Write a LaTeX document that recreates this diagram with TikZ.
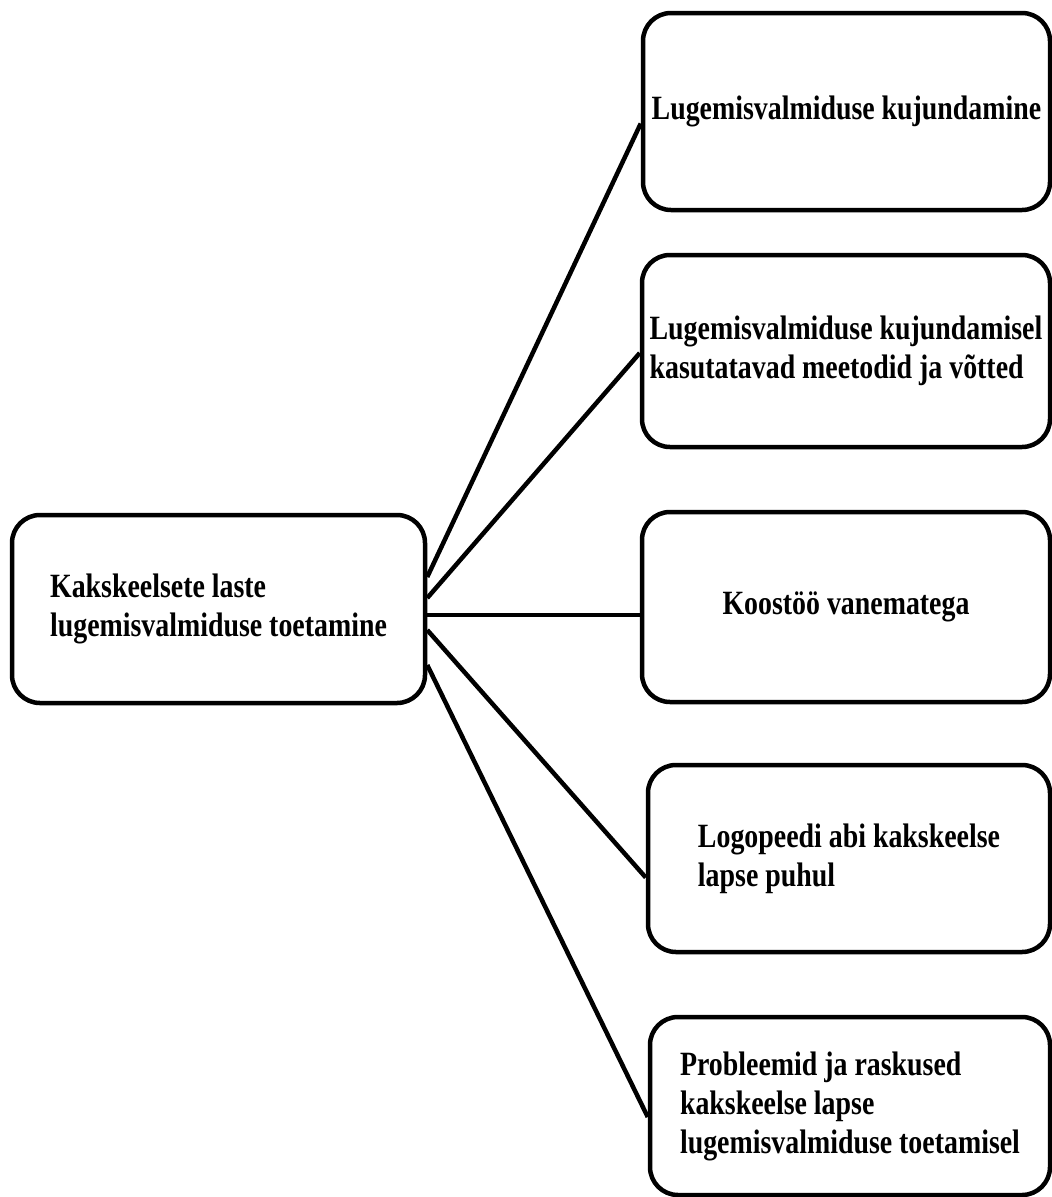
\documentclass[tikz,border=0pt]{standalone}
\usepackage{fontspec}
\setmainfont{Liberation Serif}[FakeStretch=0.82]
\usetikzlibrary{positioning}

\tikzset{
  topic/.style={draw, line width=4.5pt, rounded corners=28pt, align=left,
    font=\bfseries\fontsize{34}{39}\selectfont, inner sep=0pt},
  link/.style={line width=4.5pt}
}

\begin{document}
\begin{tikzpicture}[x=1pt,y=-1pt]
  \useasboundingbox (0,0) rectangle (1052,1197);
  % central topic
  \node[topic, minimum width=413pt, minimum height=188pt] (root) at (218.5,609)
    {Kakskeelsete laste\\lugemisvalmiduse toetamine};
  % sub topics
  \node[topic, minimum width=407pt, minimum height=197pt] (kujund) at (846.5,111.5)
    {Lugemisvalmiduse kujundamine};
  \node[topic, minimum width=408pt, minimum height=192pt] (meetod) at (846,351)
    {Lugemisvalmiduse kujundamisel\\kasutatavad meetodid ja võtted};
  \node[topic, minimum width=408pt, minimum height=190pt] (vanem) at (846,607)
    {Koostöö vanematega};
  \node[topic, minimum width=402pt, minimum height=187pt] (logoped) at (849,858.5)
    {Logopeedi abi kakskeelse\\lapse puhul};
  \node[topic, minimum width=400pt, minimum height=178pt] (probleem) at (850,1106)
    {Probleemid ja raskused\\kakskeelse lapse\\lugemisvalmiduse toetamisel};
  % connectors
  \draw[link] ([yshift=32pt]root.east) -- ([yshift=-12pt]kujund.west);
  \draw[link] ([yshift=11pt]root.east) -- ([yshift=-2pt]meetod.west);
  \draw[link] ([yshift=-6pt]root.east) -- ([yshift=-8pt]vanem.west);
  \draw[link] ([yshift=-21pt]root.east) -- ([yshift=-19pt]logoped.west);
  \draw[link] ([yshift=-56pt]root.east) -- ([yshift=-11pt]probleem.west);
\end{tikzpicture}
\end{document}
